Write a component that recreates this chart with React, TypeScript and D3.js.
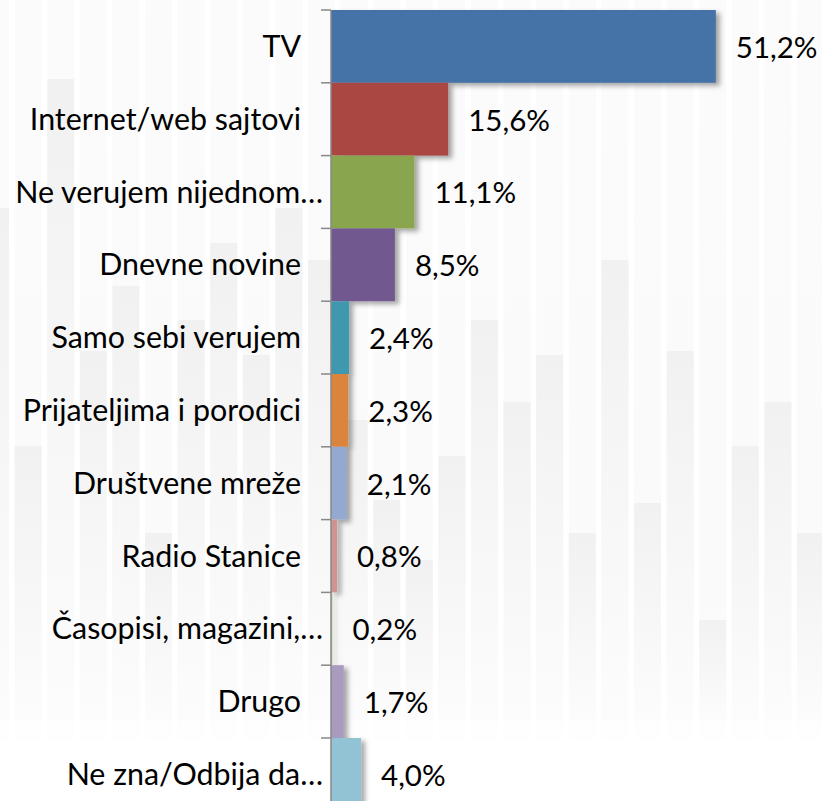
import React from "react";
import * as d3 from "d3";

// categories (top to bottom) and their shares in %
const categories = [
  "TV",
  "Internet/web sajtovi",
  "Ne verujem nijednom…",
  "Dnevne novine",
  "Samo sebi verujem",
  "Prijateljima i porodici",
  "Društvene mreže",
  "Radio Stanice",
  "Časopisi, magazini,…",
  "Drugo",
  "Ne zna/Odbija da…",
];
const values = [51.2, 15.6, 11.1, 8.5, 2.4, 2.3, 2.1, 0.8, 0.2, 1.7, 4.0];
const valueLabels = ["51,2%", "15,6%", "11,1%", "8,5%", "2,4%", "2,3%", "2,1%", "0,8%", "0,2%", "1,7%", "4,0%"];
const colors = [
  "#4572A7", "#AA4643", "#89A54E", "#71588F", "#4198AF", "#DB843D",
  "#93A9CF", "#D19392", "#B9CD96", "#A99BBD", "#92C3D4",
];

// decorative background stripes: top of the darker part of each stripe
const bgStripeTops = [
  208, 446, 79, 351, 286, 533, 320, 243, 355, 208, 260, 420, 500, 560, 456,
  320, 402, 355, 533, 260, 503, 351, 620, 446, 402, 533,
];

const W = 822;
const H = 801;
const FONT = "Lato, Carlito, Calibri, sans-serif";

export default function App() {
  const axisX = 331;
  const top = 10;
  const band = 72.8;

  const y = d3
    .scaleBand<string>()
    .domain(categories)
    .range([top, top + band * categories.length])
    .padding(0);

  const x = d3.scaleLinear().domain([0, 60]).range([axisX, axisX + 451]);

  const stripe = d3.scaleLinear().domain([0, 1]).range([-18, 14.6]);

  return (
    <svg
      width={W}
      height={H}
      style={{ position: "absolute", left: 0, top: 0, background: "#fff" }}
    >
      <defs>
        <linearGradient id="stripeDark" x1="0" y1="0" x2="0" y2="1">
          <stop offset="0" stopColor="#f1f1f1" />
          <stop offset="1" stopColor="#fcfcfc" />
        </linearGradient>
        <linearGradient id="stripeLight" x1="0" y1="0" x2="0" y2="1">
          <stop offset="0" stopColor="#fbfbfb" />
          <stop offset="0.8" stopColor="#fafafa" />
          <stop offset="1" stopColor="#fefefe" />
        </linearGradient>
        <filter id="shadow" x="-10%" y="-10%" width="130%" height="130%">
          <feDropShadow dx="4" dy="3" stdDeviation="2.5" floodColor="#000" floodOpacity="0.35" />
        </filter>
      </defs>

      {/* background stripes */}
      <g>
        {bgStripeTops.map((t, i) => (
          <g key={i}>
            <rect x={stripe(i)} y={0} width={27} height={740} fill="url(#stripeLight)" />
            <rect x={stripe(i)} y={t} width={27} height={720 - t} fill="url(#stripeDark)" />
          </g>
        ))}
      </g>

      {/* bars */}
      <g filter="url(#shadow)">
        {categories.map((c, i) => (
          <rect
            key={c}
            x={x(0)}
            y={y(c)!}
            width={Math.max(x(values[i]) - x(0), 1.5)}
            height={y.bandwidth()}
            fill={colors[i]}
          />
        ))}
      </g>

      {/* axis */}
      <g stroke="#888" strokeWidth={1.5}>
        <line x1={axisX} x2={axisX} y1={top} y2={top + band * categories.length} />
        {d3.range(categories.length + 1).map((i) => (
          <line key={i} x1={axisX - 10} x2={axisX} y1={top + band * i} y2={top + band * i} />
        ))}
      </g>

      {/* category labels */}
      <g fontFamily={FONT} fontSize={30.4} fill="#000">
        {categories.map((c) => (
          <text
            key={c}
            x={c.endsWith("…") ? 323 : 301}
            y={y(c)! + y.bandwidth() / 2}
            dy="0.35em"
            textAnchor="end"
          >
            {c}
          </text>
        ))}
      </g>

      {/* value labels */}
      <g fontFamily={FONT} fontSize={29.5} fill="#000">
        {categories.map((c, i) => (
          <text key={c} x={x(values[i]) + 20} y={y(c)! + y.bandwidth() / 2 + 1} dy="0.35em">
            {valueLabels[i]}
          </text>
        ))}
      </g>
    </svg>
  );
}
